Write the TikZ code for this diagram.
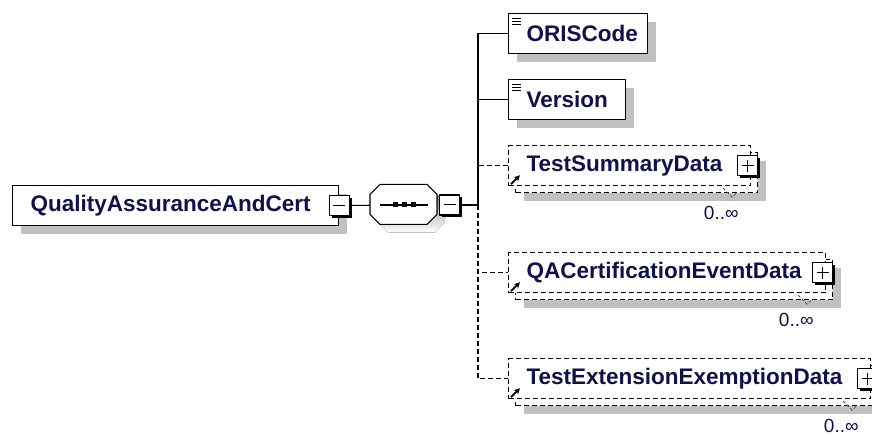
\documentclass[tikz,border=0pt]{standalone}
\usepackage{fontspec}
\setmainfont{Liberation Sans}
\usepackage{tikz}
\usetikzlibrary{calc,positioning,shadows,arrows.meta}

\definecolor{shade}{RGB}{192,192,192}
\definecolor{ink}{RGB}{16,16,74}

\begin{document}
\begin{tikzpicture}[x=1bp,y=-1bp,line width=1.1bp,
        opt/.style={dash pattern=on 5bp off 3bp,line width=1.2bp},
        grayshadow/.style={drop shadow={shadow xshift=8bp,shadow yshift=-8bp,fill=shade,opacity=1}},
        ebox/.style={draw,fill=white,anchor=north west,minimum height=40bp,inner sep=0pt,grayshadow},
        rbox/.style={ebox,opt},
        fbox/.style={draw,opt,fill=white,anchor=north west,minimum height=40bp,inner sep=0pt},
        etxt/.style={inner sep=0pt,anchor=west,text=ink,font=\fontsize{22.5bp}{25bp}\selectfont\bfseries},
        mult/.style={inner sep=0pt,anchor=north east,text=ink,font=\fontsize{19bp}{22bp}\selectfont},
        tog/.style={draw,fill=white,minimum size=20bp,inner sep=0pt,drop shadow={shadow xshift=2.5bp,shadow yshift=-2.5bp,fill=black,opacity=1}},
        collapse/.style={tog,path picture={\draw[line width=1bp] ($(path picture bounding box.center)+(-6,0)$) -- ++(12,0);}},
        expand/.style={tog,path picture={\draw[line width=1bp] ($(path picture bounding box.center)+(-6,0)$) -- ++(12,0) ($(path picture bounding box.center)+(0,-6)$) -- ++(0,12);}},
        refarr/.style={-{Stealth[length=6bp,width=6bp]},line width=1.8bp},
        tick/.style={dash pattern=on 3bp off 2bp,line width=0.8bp,black!70},
        ]
        \useasboundingbox (0,0) rectangle (872,435);

        % root element and its sequence
        \node[ebox,minimum width=326bp] (qaac) at (12,185) {};
        \node[etxt,right=18bp of qaac.west] (qaac-t) {QualityAssuranceAndCert};
        \node[collapse] (qaac-c) at (qaac.east) {};

        \node[minimum width=67bp,minimum height=40bp,inner sep=0pt,anchor=west] (seq) at (370,205) {};
        \fill[shade] ($(seq.north west)+(18,8)$) -- ++(47,0) -- ++(10,10) -- ++(0,20) -- ++(-10,10) -- ++(-47,0) -- ++(-10,-10) -- ++(0,-20) -- cycle;
        \filldraw[fill=white] ($(seq.north west)+(10,0)$) -- ++(47,0) -- ++(10,10) -- ++(0,20) -- ++(-10,10) -- ++(-47,0) -- ++(-10,-10) -- ++(0,-20) -- cycle;
        \draw ($(seq.center)+(-24,0)$) -- ($(seq.center)+(24,0)$);
        \foreach \dx in {-9,0,9}
            \fill ($(seq.center)+(\dx,0)$) +(-2.5,-2.5) rectangle +(2.5,2.5);
        \node[collapse,right=1bp of seq.east] (seq-c) {};

        \coordinate (bus) at (478,205);

        % simple children
        \node[ebox,minimum width=139bp] (oris) at (508,13) {};
        \node[etxt,right=18bp of oris.west] (oris-t) {ORISCode};
        \node[ebox,minimum width=117bp] (version) at (508,79) {};
        \node[etxt,right=18bp of version.west] (version-t) {Version};
        \foreach \yy in {5,8,11} {
            \draw[line width=0.9bp] ($(oris.north west)+(4,\yy)$) -- ++(9,0);
            \draw[line width=0.9bp] ($(version.north west)+(4,\yy)$) -- ++(9,0);
        }

        % repeated children
        \node[rbox,minimum width=242bp] (tsd-r) at (515,152) {};
        \node[fbox,minimum width=242bp] (tsd) at (508,145) {};
        \node[etxt,right=18bp of tsd.west] (tsd-t) {TestSummaryData};
        \node[expand,anchor=east] (tsd-x) at (tsd-r.east |- tsd.east) {};
        \draw[refarr] ($(tsd.south west)+(3,-2)$) -- +(9,-9);
        \draw[tick] ($(tsd-r.south east)+(-35,-5)$) -- ++(9,9) -- ++(5,-5);
        \node[mult] (tsd-m) at ($(tsd-r.south east)+(-19,12)$) {0..∞};

        \node[rbox,minimum width=317bp] (qace-r) at (515,259) {};
        \node[fbox,minimum width=317bp] (qace) at (508,252) {};
        \node[etxt,right=18bp of qace.west] (qace-t) {QACertificationEventData};
        \node[expand,anchor=east] (qace-x) at (qace-r.east |- qace.east) {};
        \draw[refarr] ($(qace.south west)+(3,-2)$) -- +(9,-9);
        \draw[tick] ($(qace-r.south east)+(-35,-5)$) -- ++(9,9) -- ++(5,-5);
        \node[mult] (qace-m) at ($(qace-r.south east)+(-19,12)$) {0..∞};

        \node[rbox,minimum width=362bp] (tee-r) at (515,365) {};
        \node[fbox,minimum width=362bp] (tee) at (508,358) {};
        \node[etxt,right=18bp of tee.west] (tee-t) {TestExtensionExemptionData};
        \node[expand,anchor=east] (tee-x) at (tee-r.east |- tee.east) {};
        \draw[refarr] ($(tee.south west)+(3,-2)$) -- +(9,-9);
        \draw[tick] ($(tee-r.south east)+(-35,-5)$) -- ++(9,9) -- ++(5,-5);
        \node[mult] (tee-m) at ($(tee-r.south east)+(-19,12)$) {0..∞};

        % connectors
        \draw (qaac-c) -- (seq);
        \draw (seq-c) -- (bus);
        \draw (bus) |- (oris.west);
        \draw (bus) |- (version.west);
        \draw[opt] (bus) |- (tsd.west);
        \draw[opt] (bus) |- (qace.west);
        \draw[opt] (bus) |- (tee.west);
\end{tikzpicture}
\end{document}
